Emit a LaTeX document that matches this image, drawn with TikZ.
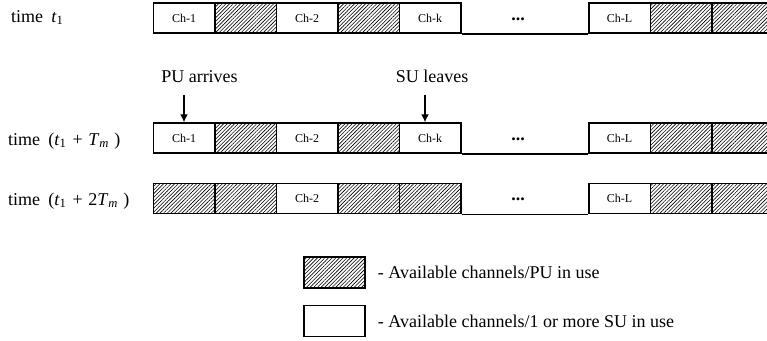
\documentclass[tikz,border=0pt]{standalone}
\usepackage{fontspec}
\setmainfont{Liberation Serif}
\usetikzlibrary{arrows.meta, positioning, patterns.meta}

\tikzset{
  cell/.style={draw, line width=1.5pt, minimum width=61.5pt, minimum height=30pt,
    inner sep=0pt, font=\fontsize{12}{13}\selectfont},
  freecell/.style={cell, fill=white},
  pucell/.style={cell, pattern={Lines[angle=45, distance=2.6pt, line width=0.6pt]}},
  lbl/.style={font=\fontsize{18}{20}\selectfont, inner sep=0pt},
  dotsl/.style={font=\fontsize{18}{20}\selectfont\bfseries, inner sep=0pt},
  arr/.style={-{Latex[length=8pt, width=8pt]}, line width=1.4pt}
}

\begin{document}
\begin{tikzpicture}[x=1pt, y=-1pt]
  \useasboundingbox (0,0) rectangle (767,340);

  % row at time t1
  \foreach \c/\x/\s/\t in {1/184/freecell/Ch-1, 2/245.5/pucell/{}, 3/307/freecell/Ch-2,
      4/368.5/pucell/{}, 5/430/freecell/Ch-k, 6/619.5/freecell/Ch-L,
      7/681/pucell/{}, 8/742.5/pucell/{}}
    \node[\s] (ra\c) at (\x,18) {\t};
  % row at time t1+Tm
  \foreach \c/\x/\s/\t in {1/184/freecell/Ch-1, 2/245.5/pucell/{}, 3/307/freecell/Ch-2,
      4/368.5/pucell/{}, 5/430/freecell/Ch-k, 6/619.5/freecell/Ch-L,
      7/681/pucell/{}, 8/742.5/pucell/{}}
    \node[\s] (rb\c) at (\x,138) {\t};
  % row at time t1+2Tm
  \foreach \c/\x/\s/\t in {1/184/pucell/{}, 2/245.5/pucell/{}, 3/307/freecell/Ch-2,
      4/368.5/pucell/{}, 5/430/pucell/{}, 6/619.5/freecell/Ch-L,
      7/681/pucell/{}, 8/742.5/pucell/{}}
    \node[\s] (rc\c) at (\x,198.5) {\t};

  \foreach \r in {ra, rb, rc}
    \draw[line width=1.5pt] (\r5.south east) -- (\r6.south west);

  \node[dotsl] (da) at (518,19) {...};
  \node[dotsl] (db) at (518,139) {...};
  \node[dotsl] (dc) at (518,199.5) {...};

  % time labels
  \node[lbl, anchor=base west] (ta) at (11,22)
    {time\hspace{0.45em}\textit{t}\textsubscript{1}};
  \node[lbl, anchor=base west] (tb) at (8,145)
    {time\hspace{0.45em}(\textit{t}\textsubscript{1}\hspace{0.35em}+\hspace{0.3em}\textit{T}\textsubscript{\textit{m}}\hspace{0.3em})};
  \node[lbl, anchor=base west] (tc) at (8,205)
    {time\hspace{0.45em}(\textit{t}\textsubscript{1}\hspace{0.35em}+\hspace{0.3em}2\textit{T}\textsubscript{\textit{m}}\hspace{0.3em})};

  % events
  \node[lbl, anchor=base] (pu) at (199.5,82) {PU arrives};
  \node[lbl, anchor=base] (su) at (432,82) {SU leaves};
  \coordinate (puend) at (184,95);
  \coordinate (suend) at (425,95);
  \draw[arr] (puend) -- (puend |- rb1.north);
  \draw[arr] (suend) -- (suend |- rb5.north);

  % legend
  \node[pucell, minimum width=61pt, minimum height=31pt] (lega) at (334.5,272.5) {};
  \node[freecell, minimum width=61pt, minimum height=31pt] (legb) at (334.5,321) {};
  \node[lbl, right=12pt of lega] (legat) {- Available channels/PU in use};
  \node[lbl, right=12pt of legb] (legbt) {- Available channels/1 or more SU in use};
\end{tikzpicture}
\end{document}
